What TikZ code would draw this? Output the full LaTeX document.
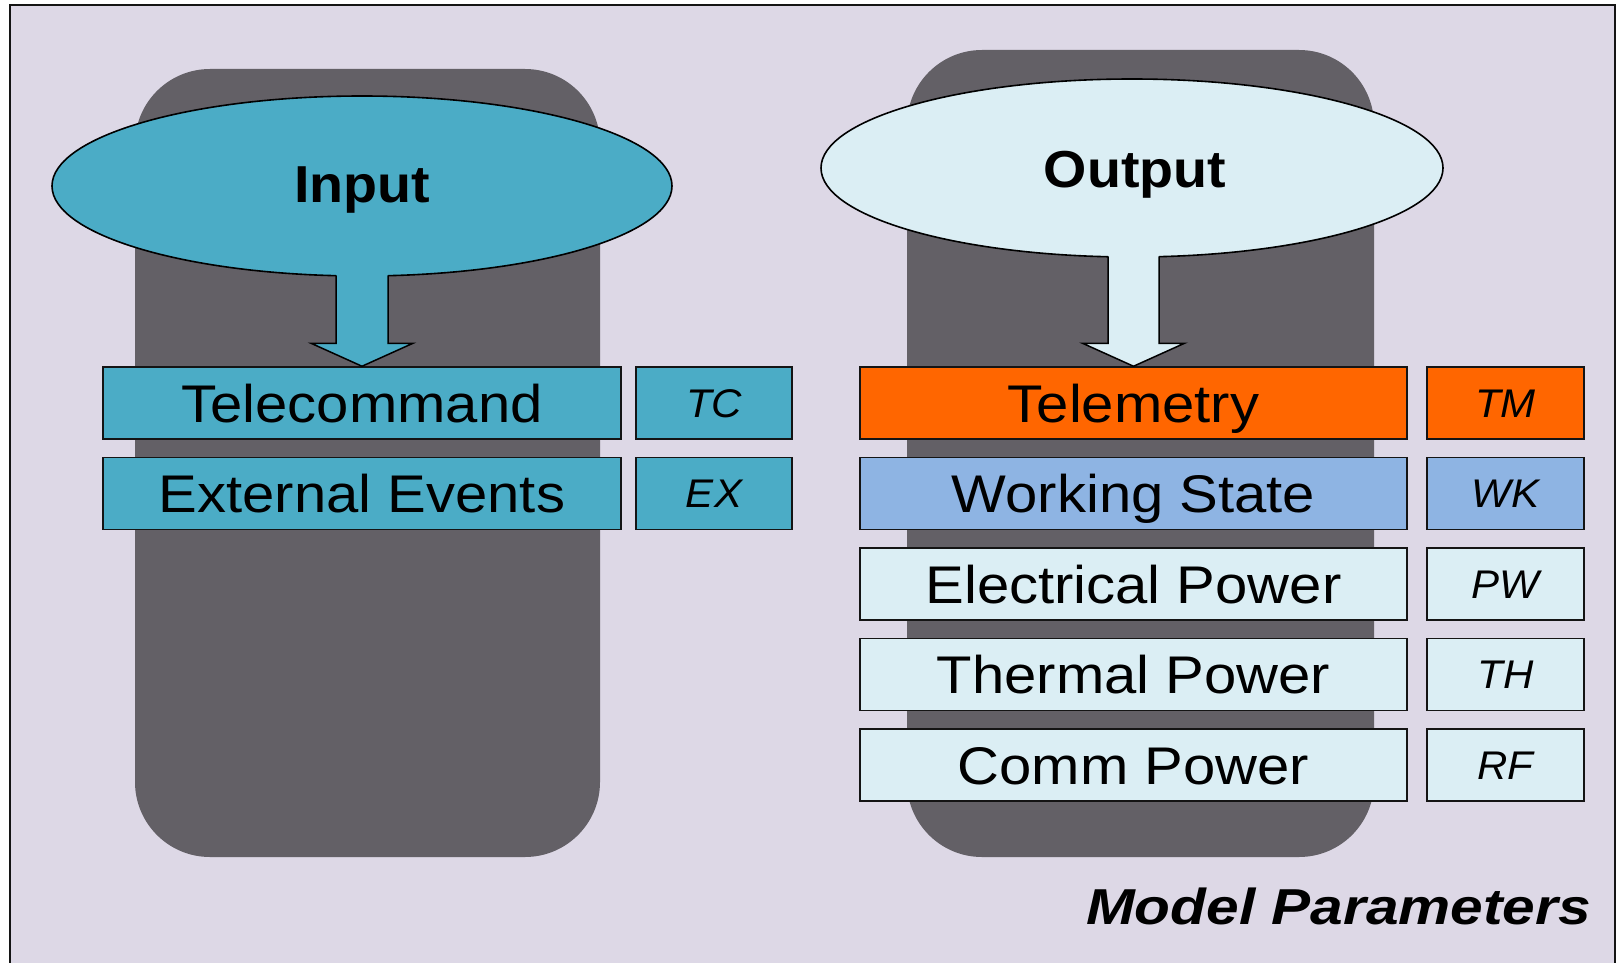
\documentclass[tikz,border=0pt]{standalone}
\usepackage{fontspec}
\setmainfont{Liberation Sans}
\newfontfamily\labelfont[FakeStretch=1.095]{Liberation Sans}
\newfontfamily\headfont[FakeStretch=1.07]{Liberation Sans}
\newfontfamily\codefont[FakeStretch=1.05]{Liberation Sans}
\newfontfamily\capfont[FakeStretch=1.16]{Liberation Sans}
\usetikzlibrary{shapes.geometric,calc}

\definecolor{canvas}{RGB}{221,216,230}
\definecolor{panel}{RGB}{99,96,102}
\definecolor{tealblue}{RGB}{75,172,198}
\definecolor{paleblue}{RGB}{219,238,244}
\definecolor{hotorange}{RGB}{255,102,0}
\definecolor{periwinkle}{RGB}{142,180,227}
\definecolor{edge}{RGB}{20,20,20}

\tikzset{
  bubble/.style={ellipse, draw=black, line width=1.6pt, inner sep=0pt,
    text height=37pt, text depth=0pt,
    font=\headfont\fontsize{52}{56}\selectfont\bfseries},
  namebox/.style={rectangle, draw=edge, line width=1.5pt, inner sep=0pt,
    minimum height=72pt, text height=38pt, text depth=0pt,
    font=\labelfont\fontsize{53}{57}\selectfont},
  codebox/.style={rectangle, draw=edge, line width=1.5pt, inner sep=0pt,
    minimum width=156pt, minimum height=72pt, text height=28.5pt, text depth=0pt,
    font=\codefont\fontsize{40}{44}\selectfont\itshape},
  pointer/.style={draw=black, line width=1.5pt, line join=miter},
}

\begin{document}
\begin{tikzpicture}[x=1pt,y=-1pt]
\useasboundingbox (0,0) rectangle (1617,963);
\fill[white] (0,0) rectangle (1617,963);
% frame
\draw[fill=canvas, draw=edge, line width=2pt] (10,5) rectangle (1615,990);

% dark rounded panels
\fill[panel, rounded corners=75pt] (135,69) rectangle (600,857);
\fill[panel, rounded corners=75pt] (907,50) rectangle (1374,857);

% ellipses
\node[bubble, fill=tealblue, minimum width=620pt, minimum height=180pt] (in) at (362,186) {};
\node[bubble, fill=paleblue, minimum width=622pt, minimum height=178pt] (out) at (1132,168) {};
\node[bubble, draw=none, inner sep=0pt] (inlbl) at (362,183.5) {Input};
\node[bubble, draw=none, inner sep=0pt] (outlbl) at (1135,168.5) {Output};

% input side
\node[namebox, fill=tealblue, minimum width=518pt] (tc) at (362,403) {Telecommand};
\node[namebox, fill=tealblue, minimum width=518pt] (ex) at (362,493.5) {External Events};
\node[codebox, fill=tealblue] (tcc) at (714,403) {TC};
\node[codebox, fill=tealblue] (exc) at (714,493.5) {EX};

% output side
\node[namebox, fill=hotorange, minimum width=547pt] (tm) at (1133.5,403) {Telemetry};
\node[namebox, fill=periwinkle, minimum width=547pt] (wk) at (1133.5,493.5) {Working State};
\node[namebox, fill=paleblue, minimum width=547pt] (pw) at (1133.5,584) {Electrical Power};
\node[namebox, fill=paleblue, minimum width=547pt] (th) at (1133.5,674.5) {Thermal Power};
\node[namebox, fill=paleblue, minimum width=547pt] (rf) at (1133.5,765) {Comm Power};
\node[codebox, fill=hotorange, minimum width=157pt] (tmc) at (1505.5,403) {TM};
\node[codebox, fill=periwinkle, minimum width=157pt] (wkc) at (1505.5,493.5) {WK};
\node[codebox, fill=paleblue, minimum width=157pt] (pwc) at (1505.5,584) {PW};
\node[codebox, fill=paleblue, minimum width=157pt] (thc) at (1505.5,674.5) {TH};
\node[codebox, fill=paleblue, minimum width=157pt] (rfc) at (1505.5,765) {RF};

% block arrow from Input to Telecommand
\fill[tealblue] ($(tc.north)+(-26,-100)$) -- ($(tc.north)+(-26,-23)$) -- ($(tc.north)+(-51,-23)$)
  -- (tc.north) -- ($(tc.north)+(51,-23)$) -- ($(tc.north)+(26,-23)$) -- ($(tc.north)+(26,-100)$) -- cycle;
\draw[pointer] ($(tc.north)+(-26,-91)$) -- ($(tc.north)+(-26,-23)$) -- ($(tc.north)+(-51,-23)$)
  -- (tc.north) -- ($(tc.north)+(51,-23)$) -- ($(tc.north)+(26,-23)$) -- ($(tc.north)+(26,-91)$);

% block arrow from Output to Telemetry
\fill[paleblue] ($(tm.north)+(-25.5,-120)$) -- ($(tm.north)+(-25.5,-23)$) -- ($(tm.north)+(-51,-23)$)
  -- (tm.north) -- ($(tm.north)+(51,-23)$) -- ($(tm.north)+(25.5,-23)$) -- ($(tm.north)+(25.5,-120)$) -- cycle;
\draw[pointer] ($(tm.north)+(-25.5,-110)$) -- ($(tm.north)+(-25.5,-23)$) -- ($(tm.north)+(-51,-23)$)
  -- (tm.north) -- ($(tm.north)+(51,-23)$) -- ($(tm.north)+(25.5,-23)$) -- ($(tm.north)+(25.5,-110)$);

% caption
\node[anchor=base east, inner sep=0pt, font=\capfont\fontsize{50.5}{54}\selectfont\bfseries\itshape] (cap) at (1591,924) {Model Parameters};
\end{tikzpicture}
\end{document}
